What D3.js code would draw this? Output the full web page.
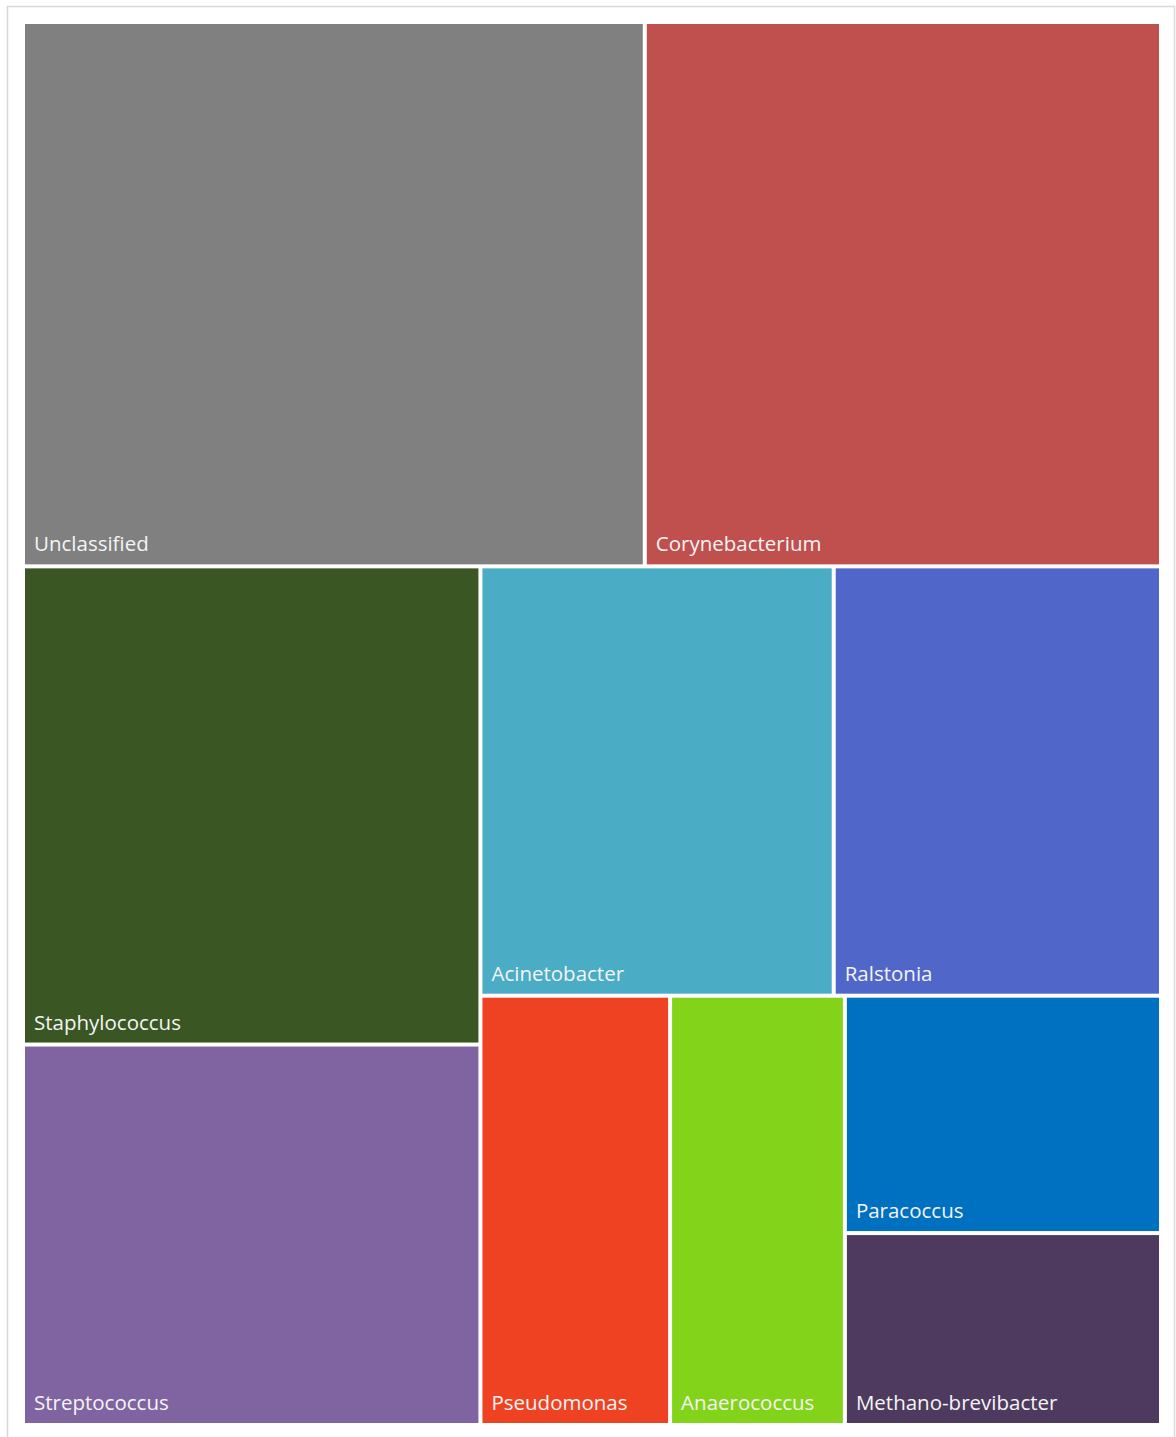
<!DOCTYPE html>
<html>
<head>
<meta charset="utf-8">
<title>Treemap</title>
<script src="https://cdn.jsdelivr.net/npm/d3@7"></script>
<style>
    body { margin: 0; background: #fff; }
    .lbl {
        fill: #f4f4f4;
        font-family: "Open Sans", "Noto Sans", sans-serif;
        font-size: 20.5px;
    }
</style>
</head>
<body>
<script>
    var width = 1176;
    var height = 1437;

    // genera, in chart order
    var names = ["Unclassified", "Corynebacterium", "Staphylococcus", "Streptococcus",
        "Acinetobacter", "Ralstonia", "Pseudomonas", "Anaerococcus",
        "Paracoccus", "Methano-brevibacter"];
    // relative abundance (%)
    var values = [21.2, 17.6, 13.7, 10.9, 9.5, 8.8, 5.1, 4.7, 4.7, 3.8];
    var colors = ["#808080", "#c0504d", "#3a5623", "#8064a2", "#4bacc6",
        "#5067c9", "#ef4223", "#83d31a", "#0070c0", "#4e3a5f"];
    // how many tiles go in each strip (Excel style layout)
    var strips = [2, 2, 2, 1, 1, 1, 1];

    var svg = d3.select("body").append("svg")
        .attr("width", width)
        .attr("height", height);

    // outer frame
    svg.append("rect")
        .attr("x", 7.5).attr("y", 6.5)
        .attr("width", 1167).attr("height", 1445)
        .attr("fill", "none")
        .attr("stroke", "#d9d9d9")
        .attr("stroke-width", 1.5);

    // strip tiling: like squarify but with fixed strip sizes
    function stripTile(parent, x0, y0, x1, y1) {
        var nodes = parent.children, value = parent.value, i0 = 0;
        strips.forEach(function (k) {
            var dx = x1 - x0, dy = y1 - y0;
            var row = {value: 0, children: nodes.slice(i0, i0 + k)};
            row.children.forEach(function (c) { row.value += c.value; });
            if (dx < dy) {
                d3.treemapDice(row, x0, y0, x1, y0 += dy * row.value / value);
            } else {
                d3.treemapSlice(row, x0, y0, x0 += dx * row.value / value, y1);
            }
            value -= row.value;
            i0 += k;
        });
    }

    var data = {name: "root", children: names.map(function (n, i) {
        return {name: n, value: values[i], color: colors[i]};
    })};

    var root = d3.hierarchy(data).sum(function (d) { return d.value || 0; });

    d3.treemap()
        .tile(stripTile)
        .size([1134, 1399])
        .paddingInner(4)
        .round(false)(root);

    var g = svg.append("g").attr("transform", "translate(25,24)");

    var cell = g.selectAll("g.cell")
        .data(root.leaves())
        .enter()
        .append("g")
        .attr("class", "cell");

    cell.append("rect")
        .attr("x", function (d) { return d.x0; })
        .attr("y", function (d) { return d.y0; })
        .attr("width", function (d) { return d.x1 - d.x0; })
        .attr("height", function (d) { return d.y1 - d.y0; })
        .attr("fill", function (d) { return d.data.color; });

    cell.append("text")
        .attr("class", "lbl")
        .attr("x", function (d) { return d.x0 + 9; })
        .attr("y", function (d) { return d.y1 - 13; })
        .text(function (d) { return d.data.name; });
</script>
</body>
</html>
